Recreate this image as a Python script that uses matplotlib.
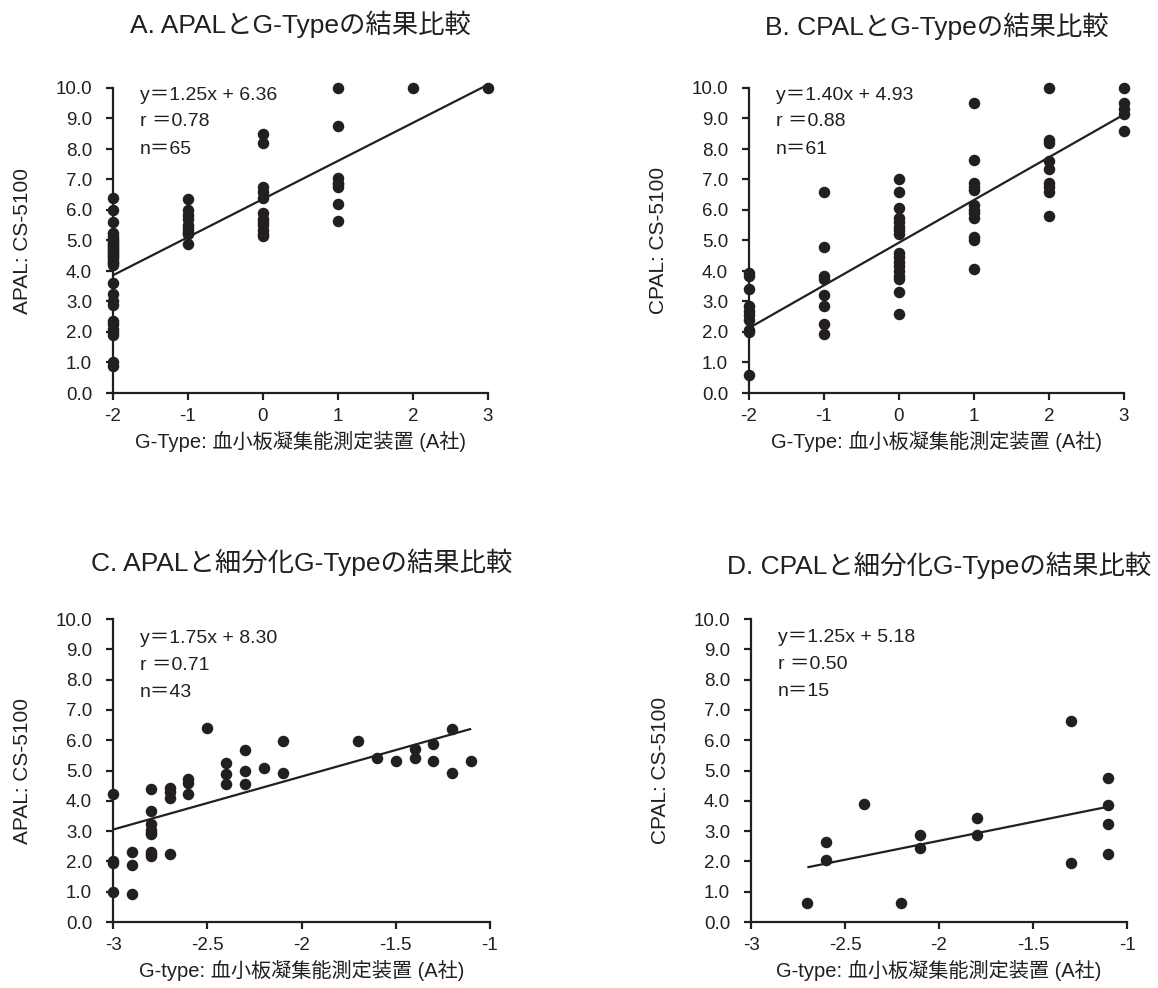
import matplotlib
matplotlib.use("Agg")
import matplotlib.pyplot as plt

plt.rcParams['font.family'] = ['Liberation Sans', 'Noto Sans CJK JP', 'DejaVu Sans']
plt.rcParams['axes.unicode_minus'] = False

INK = '#231f20'

# ---------------- data ----------------
# Panel A: APAL vs G-Type
a_x = [-2]*33 + [-1]*10 + [0]*12 + [1]*8 + [2, 3]
a_y = [6.4, 6.0, 5.6, 5.25, 5.15, 5.05, 5.0, 4.95, 4.9, 4.85, 4.8, 4.75, 4.7, 4.65,
       4.6, 4.55, 4.5, 4.45, 4.4, 4.3, 4.25, 4.2, 3.6, 3.25, 3.0, 2.9, 2.35, 2.25,
       2.1, 2.0, 1.9, 1.0, 0.9,
       6.35, 6.0, 5.85, 5.7, 5.5, 5.4, 5.3, 5.25, 5.2, 4.9,
       8.5, 8.2, 6.75, 6.6, 6.4, 5.9, 5.7, 5.6, 5.5, 5.35, 5.2, 5.15,
       10.0, 8.75, 7.05, 6.9, 6.75, 6.2, 5.65, 6.85,
       10.0, 10.0]

# Panel B: CPAL vs G-Type
b_x = [-2]*10 + [-1]*8 + [0]*17 + [1]*12 + [2]*9 + [3]*5
b_y = [3.95, 3.85, 3.4, 2.85, 2.7, 2.55, 2.4, 2.05, 2.0, 0.6,
       6.6, 4.8, 3.85, 3.75, 3.2, 2.85, 2.25, 1.95,
       7.0, 6.6, 6.05, 5.75, 5.6, 5.45, 5.35, 5.2, 4.6, 4.45, 4.3, 4.15, 4.0, 3.85,
       3.75, 3.3, 2.6,
       9.5, 7.65, 6.9, 6.75, 6.65, 6.15, 6.0, 5.9, 5.75, 5.1, 5.0, 4.05,
       10.0, 8.3, 8.2, 7.6, 7.35, 6.9, 6.75, 6.6, 5.8,
       10.0, 9.5, 9.3, 9.15, 8.6]

# Panel C: APAL vs subdivided G-Type
c_x = [-3, -3, -3, -3, -2.9, -2.9, -2.9,
       -2.8, -2.8, -2.8, -2.8, -2.8, -2.8, -2.8, -2.8, -2.8,
       -2.7, -2.7, -2.7, -2.7, -2.6, -2.6, -2.6, -2.5,
       -2.4, -2.4, -2.4, -2.3, -2.3, -2.3, -2.2, -2.1, -2.1,
       -1.7, -1.6, -1.5, -1.4, -1.4, -1.3, -1.3, -1.2, -1.2, -1.1]
c_y = [4.23, 1.96, 2.0, 1.0, 2.3, 1.88, 0.93,
       4.4, 3.66, 3.22, 3.05, 2.9, 2.95, 2.3, 2.18, 2.25,
       4.43, 4.3, 4.1, 2.26, 4.73, 4.6, 4.21, 6.41,
       5.25, 4.87, 4.57, 5.67, 4.98, 4.57, 5.09, 5.99, 4.92,
       5.99, 5.4, 5.31, 5.71, 5.4, 5.88, 5.31, 6.37, 4.92, 5.31]

# Panel D: CPAL vs subdivided G-Type
d_x = [-2.7, -2.6, -2.6, -2.4, -2.2, -2.1, -2.1, -1.8, -1.8,
       -1.3, -1.3, -1.1, -1.1, -1.1, -1.1]
d_y = [0.64, 2.64, 2.05, 3.91, 0.64, 2.86, 2.43, 3.44, 2.86,
       6.63, 1.94, 4.76, 3.86, 3.22, 2.26]

# regression results shown on the chart
fits = {
    'A': dict(slope=1.25, icpt=6.36, r='0.78', n='65', xr=(-2, 3)),
    'B': dict(slope=1.40, icpt=4.93, r='0.88', n='61', xr=(-2, 3)),
    'C': dict(slope=1.75, icpt=8.30, r='0.71', n='43', xr=(-3, -1.1)),
    'D': dict(slope=1.25, icpt=5.18, r='0.50', n='15', xr=(-2.7, -1.1)),
}

titles = {
    'A': 'A. APALとG-Typeの結果比較',
    'B': 'B. CPALとG-Typeの結果比較',
    'C': 'C. APALと細分化G-Typeの結果比較',
    'D': 'D. CPALと細分化G-Typeの結果比較',
}
ylabels = {'A': 'APAL: CS-5100', 'B': 'CPAL: CS-5100',
           'C': 'APAL: CS-5100', 'D': 'CPAL: CS-5100'}
xlabels = {'A': 'G-Type: 血小板凝集能測定装置 (A社)',
           'B': 'G-Type: 血小板凝集能測定装置 (A社)',
           'C': 'G-type: 血小板凝集能測定装置 (A社)',
           'D': 'G-type: 血小板凝集能測定装置 (A社)'}

int_ticks = [-2, -1, 0, 1, 2, 3]
int_tick_labels = ['-2', '-1', '0', '1', '2', '3']
half_ticks = [-3, -2.5, -2, -1.5, -1]
half_tick_labels = ['-3', '-2.5', '-2', '-1.5', '-1']
y_ticks = [0, 1, 2, 3, 4, 5, 6, 7, 8, 9, 10]
y_tick_labels = ['0.0', '1.0', '2.0', '3.0', '4.0', '5.0', '6.0', '7.0', '8.0', '9.0', '10.0']

data = {'A': (a_x, a_y), 'B': (b_x, b_y), 'C': (c_x, c_y), 'D': (d_x, d_y)}

# ---------------- layout ----------------
W, H = 1158, 988
fig = plt.figure(figsize=(W/100, H/100), dpi=100)
fig.patch.set_facecolor('white')

# pixel boxes: left, top, right, bottom
boxes = {
    'A': (113, 88, 488, 393),
    'B': (749, 88, 1124, 393),
    'C': (113, 619, 490, 922),
    'D': (751, 619, 1127, 922),
}
title_y = {'A': 24, 'B': 26, 'C': 562, 'D': 565}
text_top = {'A': 95, 'B': 95, 'C': 638, 'D': 637}

FS_TICK = 13.5
FS_NOTE = 14
FS_LABEL = 14.5
FS_YLABEL = 15
FS_TITLE = 19

for key in ['A', 'B', 'C', 'D']:
    l, t, r, b = boxes[key]
    ax = fig.add_axes([l/W, 1 - b/H, (r-l)/W, (b-t)/H])
    xs, ys = data[key]
    f = fits[key]
    if key in ('A', 'B'):
        ax.set_xlim(-2, 3)
        ax.set_xticks(int_ticks)
        ax.set_xticklabels(int_tick_labels)
    else:
        ax.set_xlim(-3, -1)
        ax.set_xticks(half_ticks)
        ax.set_xticklabels(half_tick_labels)
    ax.set_ylim(0, 10)
    ax.set_yticks(y_ticks)
    ax.set_yticklabels(y_tick_labels)

    ax.plot(xs, ys, 'o', color=INK, markersize=8.3, markeredgewidth=0,
            clip_on=False, zorder=3)
    x0, x1 = f['xr']
    ax.plot([x0, x1], [f['slope']*x0 + f['icpt'], f['slope']*x1 + f['icpt']],
            color=INK, lw=1.6, zorder=4, clip_on=False, solid_capstyle='butt')

    for s in ['top', 'right']:
        ax.spines[s].set_visible(False)
    for s in ['left', 'bottom']:
        ax.spines[s].set_linewidth(1.6)
        ax.spines[s].set_color(INK)
    ax.tick_params(axis='both', direction='out', length=5, width=1.6,
                   color=INK, labelcolor=INK, labelsize=FS_TICK)
    ax.tick_params(axis='x', pad=6)
    ax.tick_params(axis='y', pad=10)

    h = b - t
    w = r - l
    # annotation
    lines = [f'y＝{f["slope"]:.2f}x + {f["icpt"]:.2f}', f'r ＝{f["r"]}', f'n＝{f["n"]}']
    for i, s in enumerate(lines):
        ypx = text_top[key] + 27*i
        ax.text(27/w, (b - ypx)/h, s, transform=ax.transAxes, ha='left',
                va='center', fontsize=FS_NOTE, color=INK)
    # title
    ax.text(0.5, (b - title_y[key])/h, titles[key], transform=ax.transAxes,
            ha='center', va='center', fontsize=FS_TITLE, color=INK)
    # x label
    ax.text(0.5, -48/h, xlabels[key], transform=ax.transAxes, ha='center',
            va='center', fontsize=FS_LABEL, color=INK)
    # y label
    ax.text(-90/w, 0.5, ylabels[key], transform=ax.transAxes, ha='center',
            va='center', rotation=90, fontsize=FS_YLABEL, color=INK)

fig.savefig('out.png', dpi=100, facecolor='white')
